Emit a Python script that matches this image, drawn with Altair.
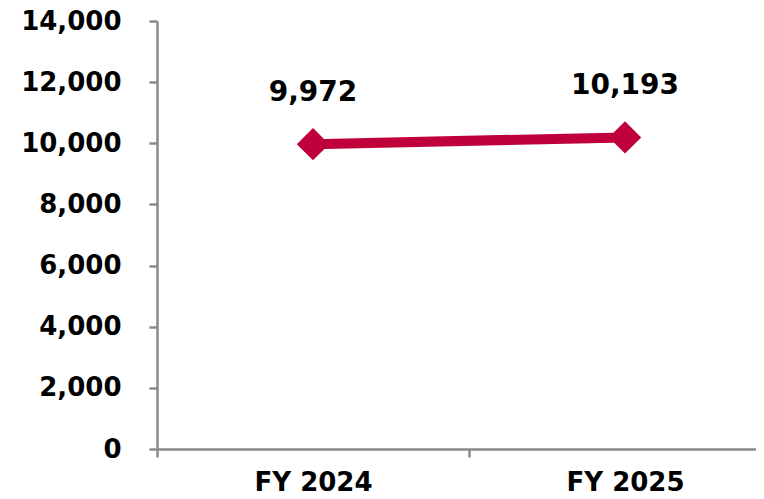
import altair as alt
import pandas as pd

years = ["FY 2024", "FY 2025"]
values = [9972, 10193]
y_ticks = [0, 2000, 4000, 6000, 8000, 10000, 12000, 14000]

df = pd.DataFrame({"year": years, "value": values})
df["label"] = [f"{v:,}" for v in values]

FONT = "DejaVu Sans"
RED = "#C0003A"
GREY = "#8A8A8A"

x_enc = alt.X(
    "year:N",
    sort=years,
    scale=alt.Scale(type="band", range=[0, 624], paddingInner=0, paddingOuter=0),
    axis=alt.Axis(
        title=None, labelAngle=0, tickBand="extent", labelFont=FONT, labelFontSize=26,
        labelFontWeight="bold", labelColor="#000000", labelPadding=12,
        domainColor=GREY, domainWidth=2.5, tickColor=GREY, tickWidth=2.5, tickSize=8,
        grid=False,
    ),
)
y_enc = alt.Y(
    "value:Q",
    scale=alt.Scale(domain=[0, 14000], nice=False, zero=True),
    axis=alt.Axis(
        title=None, values=y_ticks, format=",d", labelFont=FONT, labelFontSize=26,
        labelFontWeight="bold", labelColor="#000000", labelPadding=28,
        domainColor=GREY, domainWidth=2.5, tickColor=GREY, tickWidth=2.5, tickSize=8,
        grid=False,
    ),
)

base = alt.Chart(df).encode(x=x_enc, y=y_enc)

line = base.mark_line(color=RED, strokeWidth=10)
pts = base.mark_point(shape="diamond", filled=True, color=RED, size=1050, opacity=1)
txt = base.mark_text(
    font=FONT, fontSize=28, fontWeight="bold", color="#000000", dy=-51, baseline="middle"
).encode(text="label:N")

chart = (
    alt.layer(line, pts, txt)
    .properties(
        width=599,
        height=428,
        autosize=alt.AutoSizeParams(type="none"),
        padding={"left": 149, "top": 13, "right": 0, "bottom": 42},
    )
    .configure_view(stroke=None)
)

chart.save("out.html", embed_options={"renderer": "svg", "actions": False})
